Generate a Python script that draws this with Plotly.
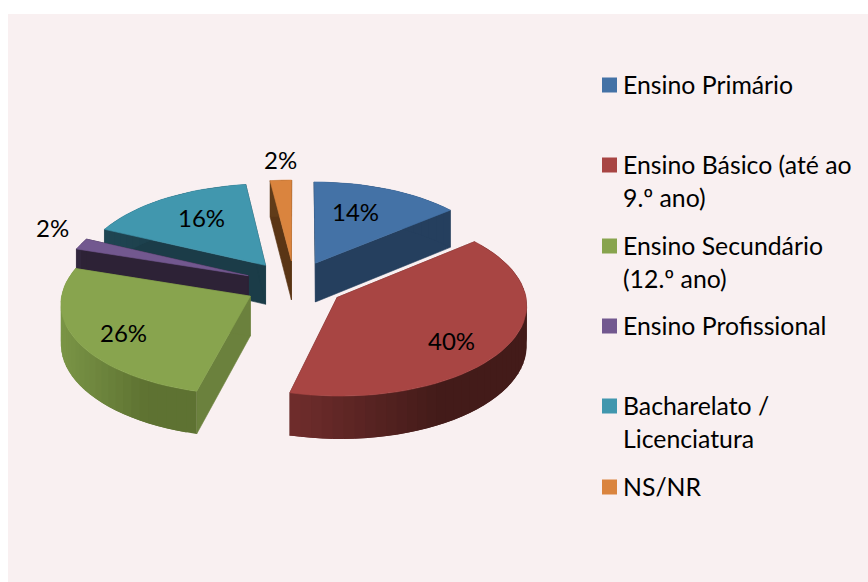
import math
import plotly.graph_objects as go

CATEGORIES = ["Ensino Primário", "Ensino Básico (até ao\n9.º ano)", "Ensino Secundário\n(12.º ano)",
              "Ensino Profissional", "Bacharelato /\nLicenciatura", "NS/NR"]
VALUES = [14, 40, 26, 2, 16, 2]
TOP_COLORS = ["#4472A6", "#A84543", "#88A44E", "#72588F", "#4197AE", "#DA843E"]
WALL_COLORS = ["#253F5E", "#5F2625", "#6B813D", "#2D2236", "#1B3C48", "#5A3515"]
# rim colours: [colour at the rim's left-most screen end, colour at right-most end]
RIM_LEFT = ["#2A4768", "#702D2C", "#7A9546", "#34283F", "#1F4552", "#66401C"]
RIM_RIGHT = ["#253F5E", "#431B19", "#5E7232", "#2D2236", "#1B3C48", "#5A3515"]

# ---- layout constants of the drawing (pixels) ----
W, H = 868, 582
CX, CY = 294.5, 284.5   # pie centre on screen
R = 187                 # radius
SQUASH = 0.48           # tilt of the disc
PERSP = 0.07            # near parts look bigger
EXPLODE = 50 / 187      # wedge explosion, fraction of the radius
DEPTH = 39.5            # thickness
PANEL = "#F9F0F1"
TEXT = "#000000"
FONT = "Lato"
FS_PCT = 24
FS_LEG = 24.8
PCT_POS = [(355, 211), (451, 340), (123, 332), (52, 227), (201, 217), (280, 159)]
LEG_X0, LEG_SIZE, LEG_TX = 602, 15, 623
LEG_Y = [85, 165, 246, 326, 406, 487]
LEG_LINE = 33


def project(x, y, lift=0.0):
    s = 1 / (1 + PERSP * y)
    return CX + R * x * s, CY - R * SQUASH * y * s + lift * s


def hex_mix(a, b, t):
    ca = [int(a[i:i + 2], 16) for i in (1, 3, 5)]
    cb = [int(b[i:i + 2], 16) for i in (1, 3, 5)]
    return "#%02X%02X%02X" % tuple(round(p + (q - p) * t) for p, q in zip(ca, cb))


def poly(points, color, width=0.6):
    xs = [p[0] for p in points] + [points[0][0]]
    ys = [p[1] for p in points] + [points[0][1]]
    return go.Scatter(x=xs, y=ys, mode="lines", fill="toself", fillcolor=color,
                      line=dict(color=color, width=width), hoverinfo="skip", showlegend=False)


total = sum(VALUES)
wedges = []
start = 0.0
for i, v in enumerate(VALUES):
    sweep = v / total * 2 * math.pi
    wedges.append((i, start, start + sweep))
    start += sweep


def wedge_traces(i, a0, a1):
    mid = (a0 + a1) / 2
    ox, oy = EXPLODE * math.sin(mid), EXPLODE * math.cos(mid)
    n = max(2, int((a1 - a0) / math.radians(3)))
    angs = [a0 + (a1 - a0) * k / n for k in range(n + 1)]
    pt = lambda a: (ox + math.sin(a), oy + math.cos(a))
    tip = (ox, oy)
    out = []
    # side walls
    for a in (a0, a1):
        p = pt(a)
        out.append(poly([project(*tip), project(*p), project(*p, DEPTH), project(*tip, DEPTH)], WALL_COLORS[i]))
    # rim: each strip reaches under the next one, so no seam shows
    xs = [project(*pt(a))[0] for a in angs]
    lo, hi = min(xs), max(xs)
    for k in range(n):
        p, q = pt(angs[k]), pt(angs[min(k + 2, n)])
        mid_x = (project(*pt(angs[k]))[0] + project(*pt(angs[k + 1]))[0]) / 2
        t = (mid_x - lo) / max(hi - lo, 1)
        m = pt(angs[min(k + 1, n)])
        out.append(poly([project(*p), project(*m), project(*q), project(*q, DEPTH), project(*m, DEPTH),
                         project(*p, DEPTH)], hex_mix(RIM_LEFT[i], RIM_RIGHT[i], min(1, t * 1.6)), width=0))
    # top face
    out.append(poly([project(*tip)] + [project(*pt(a)) for a in angs], TOP_COLORS[i]))
    return out


fig = go.Figure()
order = sorted(wedges, key=lambda w: math.cos((w[1] + w[2]) / 2), reverse=True)
for i, a0, a1 in order:
    fig.add_traces(wedge_traces(i, a0, a1))

annotations = []
for v, (x, y) in zip(VALUES, PCT_POS):
    annotations.append(dict(x=x, y=y, xref="x", yref="y", text=f"{v}%", showarrow=False,
                            font=dict(family=FONT, size=FS_PCT, color=TEXT), xanchor="center", yanchor="middle"))
shapes = [dict(type="rect", xref="x", yref="y", x0=8, x1=W, y0=14, y1=H, fillcolor=PANEL,
               line=dict(width=0), layer="below")]
for label, color, y in zip(CATEGORIES, TOP_COLORS, LEG_Y):
    shapes.append(dict(type="rect", xref="x", yref="y", x0=LEG_X0, x1=LEG_X0 + LEG_SIZE,
                       y0=y - LEG_SIZE / 2, y1=y + LEG_SIZE / 2, fillcolor=color, line=dict(width=0)))
    for j, line in enumerate(label.split("\n")):
        annotations.append(dict(x=LEG_TX, y=y + j * LEG_LINE - 1, xref="x", yref="y", text=line, showarrow=False,
                                font=dict(family=FONT, size=FS_LEG, color=TEXT), xanchor="left", yanchor="middle",
                                xshift=-2))

fig.update_layout(
    width=W, height=H, autosize=False, margin=dict(l=0, r=0, t=0, b=0),
    paper_bgcolor="#FFFFFF", plot_bgcolor="rgba(0,0,0,0)", showlegend=False,
    xaxis=dict(range=[0, W], visible=False, fixedrange=True),
    yaxis=dict(range=[H, 0], visible=False, fixedrange=True),
    shapes=shapes, annotations=annotations,
)
fig.write_html("out.html", config={"displayModeBar": False},
               post_script="document.body.style.margin='0';document.documentElement.style.overflow='hidden';")
